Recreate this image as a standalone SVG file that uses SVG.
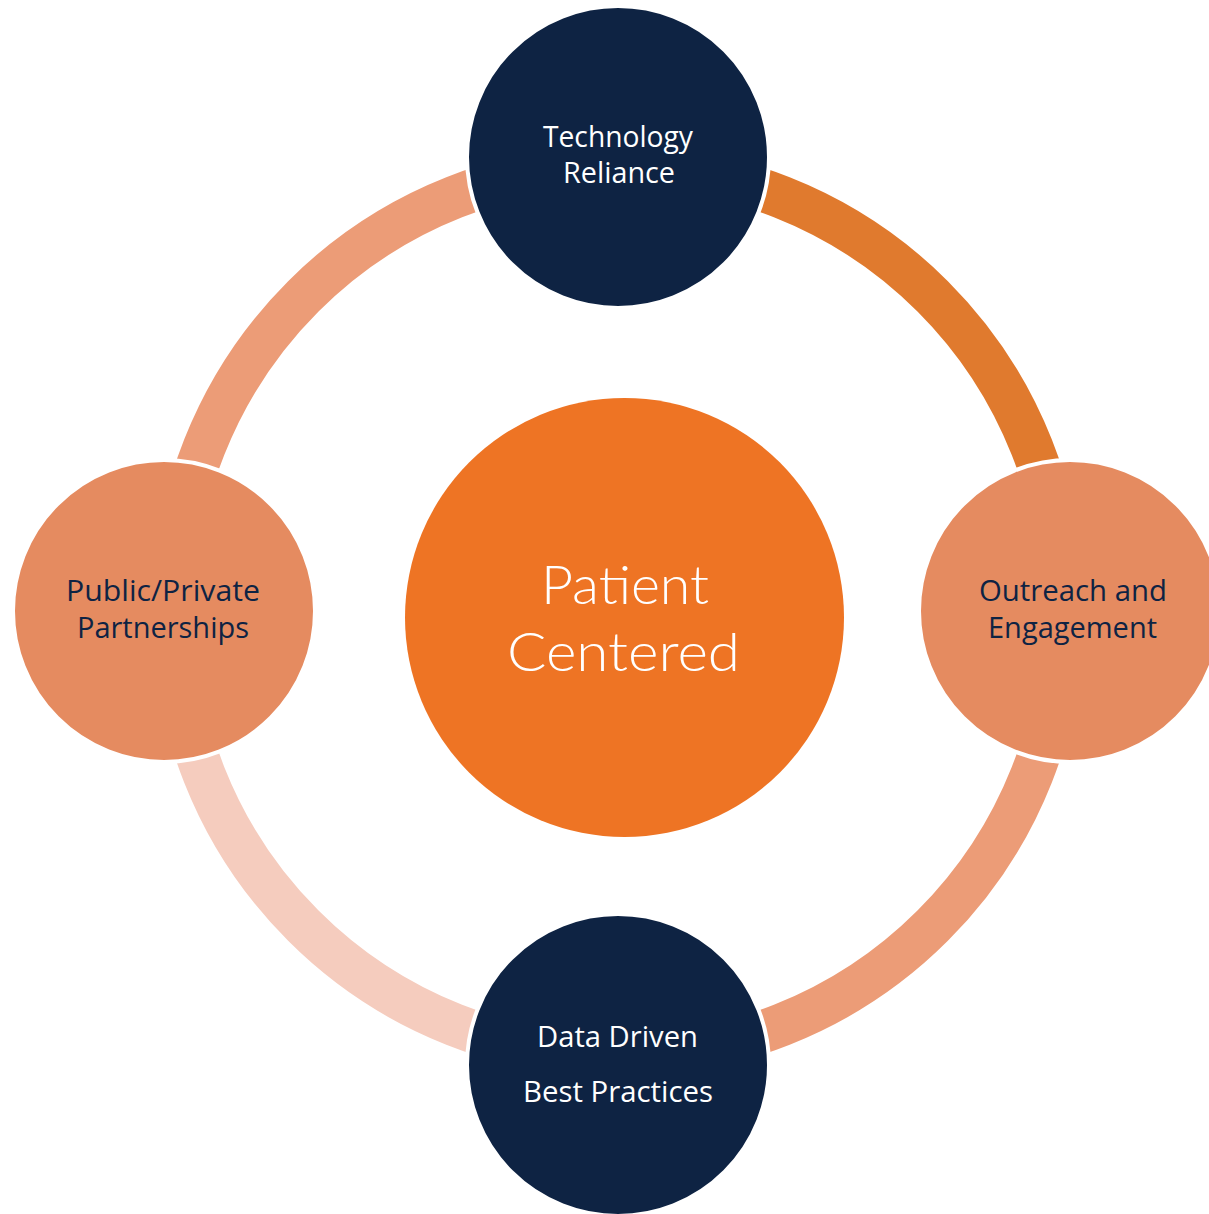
<svg xmlns="http://www.w3.org/2000/svg" width="1209" height="1214" viewBox="0 0 1209 1214">
<style>
.arc{fill:none;stroke-width:43}
.node{stroke:#ffffff;stroke-width:4}
.navy{fill:#0E2343}
.peach{fill:#E58B60}
.lbl{font-family:"Open Sans","Liberation Sans",sans-serif;font-size:29px;text-anchor:middle}
.w{fill:#ffffff}
.d{fill:#0E2343}
.center{font-family:Lato,"Open Sans",sans-serif;font-weight:300;font-size:54px;fill:#ffffff;text-anchor:middle}
</style>
<rect width="1209" height="1214" fill="#ffffff"/>
<g id="connectors">
<path class="arc" stroke="#E07A2E" d="M 618 166 A 445 445 0 0 1 1063 611"/>
<path class="arc" stroke="#EC9C77" d="M 1063 611 A 445 445 0 0 1 618 1056"/>
<path class="arc" stroke="#F5CCBE" d="M 618 1056 A 445 445 0 0 1 173 611"/>
<path class="arc" stroke="#EC9C77" d="M 173 611 A 445 445 0 0 1 618 166"/>
</g>
<g id="center">
<circle cx="624.5" cy="617.5" r="219.5" fill="#EE7424"/>
<text class="center" x="625" y="604" textLength="168" lengthAdjust="spacingAndGlyphs">Patient</text>
<text class="center" x="623.5" y="671" textLength="233" lengthAdjust="spacingAndGlyphs">Centered</text>
</g>
<g id="node-top">
<circle class="node navy" cx="618" cy="157" r="151"/>
<text class="lbl w" x="618" y="147" textLength="150" lengthAdjust="spacingAndGlyphs">Technology</text>
<text class="lbl w" x="619" y="183" textLength="112" lengthAdjust="spacingAndGlyphs">Reliance</text>
</g>
<g id="node-right">
<circle class="node peach" cx="1070" cy="611" r="151"/>
<text class="lbl d" x="1073" y="601" textLength="188" lengthAdjust="spacingAndGlyphs">Outreach and</text>
<text class="lbl d" x="1072.5" y="638" textLength="169" lengthAdjust="spacingAndGlyphs">Engagement</text>
</g>
<g id="node-bottom">
<circle class="node navy" cx="618" cy="1065" r="151"/>
<text class="lbl w" x="617.5" y="1047" textLength="161" lengthAdjust="spacingAndGlyphs">Data Driven</text>
<text class="lbl w" x="618" y="1102" textLength="190" lengthAdjust="spacingAndGlyphs">Best Practices</text>
</g>
<g id="node-left">
<circle class="node peach" cx="164" cy="611" r="151"/>
<text class="lbl d" x="163" y="601" textLength="194" lengthAdjust="spacingAndGlyphs">Public/Private</text>
<text class="lbl d" x="163" y="638" textLength="172" lengthAdjust="spacingAndGlyphs">Partnerships</text>
</g>
</svg>
